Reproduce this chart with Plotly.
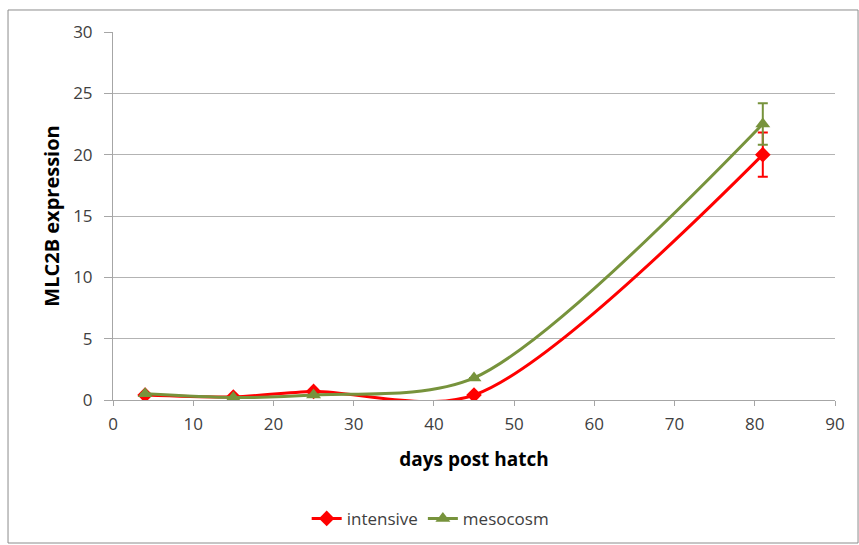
import plotly.graph_objects as go

days = [4, 15, 25, 45, 81]
intensive = [0.4, 0.25, 0.7, 0.4, 20.0]
intensive_err = [0, 0, 0, 0, 1.8]
mesocosm = [0.5, 0.2, 0.4, 1.8, 22.5]
mesocosm_err = [0, 0, 0, 0, 1.7]

x_ticks = list(range(0, 91, 10))
y_ticks = list(range(0, 31, 5))

RED = "#ff0000"
GREEN = "#77933c"
FONT = "Open Sans, Liberation Sans, sans-serif"
SMOOTH = 0.85

fig = go.Figure()
fig.add_trace(go.Scatter(
    x=days, y=intensive, name="intensive", mode="lines+markers",
    line=dict(color=RED, width=3, shape="spline", smoothing=SMOOTH),
    marker=dict(symbol="diamond", size=12, color=RED),
    error_y=dict(type="data", array=intensive_err, visible=True,
                 color=RED, thickness=2, width=5),
))
fig.add_trace(go.Scatter(
    x=days, y=mesocosm, name="mesocosm", mode="lines+markers",
    line=dict(color=GREEN, width=3, shape="spline", smoothing=SMOOTH),
    marker=dict(symbol="triangle-up", size=13, color=GREEN),
    error_y=dict(type="data", array=mesocosm_err, visible=True,
                 color=GREEN, thickness=2, width=5),
))

# outer frame around the whole chart
fig.add_shape(type="rect", xref="paper", yref="paper",
              x0=-0.1454, x1=1.0319, y0=-0.3886, y1=1.0598,
              line=dict(color="#8c8c8c", width=1), layer="below")

fig.update_layout(
    width=859, height=545,
    margin=dict(l=113, r=24, t=32, b=145, autoexpand=False),
    paper_bgcolor="white", plot_bgcolor="white",
    font=dict(family=FONT, color="#404040", size=17),
    showlegend=True,
    legend=dict(orientation="h", x=0.44, xanchor="center", y=-0.323, yanchor="middle",
                font=dict(size=17, color="#404040")),
    xaxis=dict(
        range=[0, 90], tickvals=x_ticks, ticks="outside", ticklen=5,
        tickcolor="#a6a6a6", showgrid=False, showline=True, linecolor="#a6a6a6",
        zeroline=False, tickfont=dict(size=17, color="#404040"), automargin=False,
        ticklabelstandoff=4,
        title=dict(text="<b>days post hatch</b>", font=dict(size=19, color="#000000"), standoff=18),
    ),
    yaxis=dict(
        range=[0, 30], tickvals=y_ticks, ticks="outside", ticklen=8,
        tickcolor="#a6a6a6", showgrid=True, gridcolor="#b3b3b3", gridwidth=1,
        showline=True, linecolor="#a6a6a6", zeroline=False, automargin=False,
        ticklabelstandoff=8,
        tickfont=dict(size=17, color="#404040"),
        title=dict(text="<b>MLC2B expression</b>", font=dict(size=20, color="#000000"), standoff=8),
    ),
)

fig.write_html("out.html")
